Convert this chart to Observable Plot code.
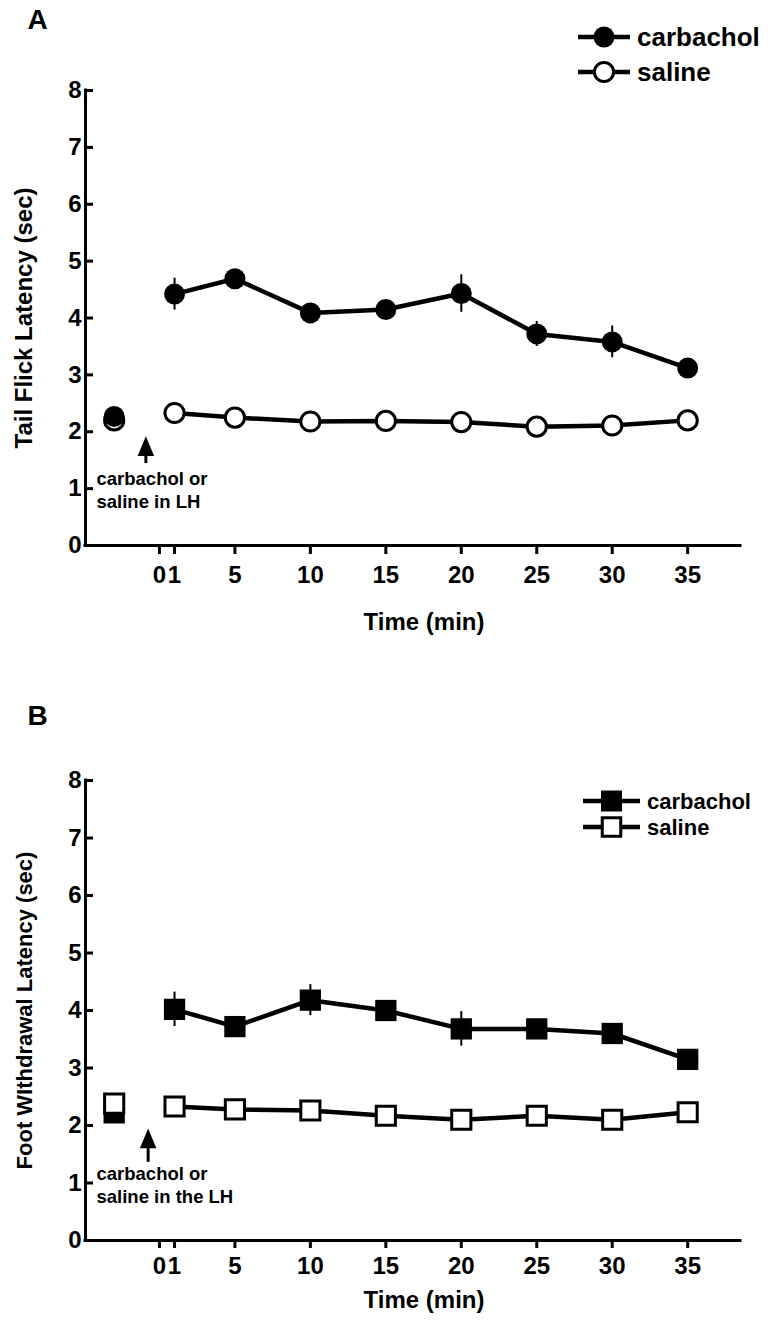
<!DOCTYPE html>
<html><head><meta charset="utf-8">
<script src="https://cdn.jsdelivr.net/npm/d3@7"></script>
<script src="https://cdn.jsdelivr.net/npm/@observablehq/plot@0.6"></script>
<style>
body{margin:0;background:#fff;font-family:"Liberation Sans",Arial,sans-serif;}
.panel{position:relative;width:773px;}
.legend{position:absolute;left:0;top:0;pointer-events:none;}
</style></head><body>
<div id="A" class="panel"></div>
<div id="B" class="panel"></div>
<script>
// ---- data ----
const times = [1, 5, 10, 15, 20, 25, 30, 35];
const xTickValues = [0, 1, 5, 10, 15, 20, 25, 30, 35];
const yTickValues = [0, 1, 2, 3, 4, 5, 6, 7, 8];
const baselineTime = -3;
const seriesNames = ["carbachol", "saline"];

// Panel A: tail flick latency (sec)
const tailCarbachol    = [4.42, 4.69, 4.09, 4.15, 4.43, 3.72, 3.58, 3.12];
const tailCarbacholErr = [0.28, 0.12, 0.05, 0.05, 0.33, 0.22, 0.28, 0.05];
const tailSaline       = [2.33, 2.25, 2.18, 2.19, 2.17, 2.09, 2.11, 2.20];
const tailSalineErr    = [0.10, 0.10, 0.08, 0.08, 0.08, 0.08, 0.08, 0.08];
const tailBaseline     = {carbachol: 2.27, saline: 2.20};

// Panel B: foot withdrawal latency (sec)
const footCarbachol    = [4.02, 3.72, 4.18, 4.00, 3.68, 3.68, 3.60, 3.15];
const footCarbacholErr = [0.30, 0.05, 0.27, 0.05, 0.30, 0.05, 0.05, 0.05];
const footSaline       = [2.33, 2.28, 2.26, 2.17, 2.10, 2.17, 2.10, 2.23];
const footSalineErr    = [0.10, 0.08, 0.08, 0.08, 0.08, 0.08, 0.10, 0.08];
const footBaseline     = {carbachol: 2.22, saline: 2.38};

// injection arrow (time, tail and tip of arrow in sec units)
const arrowA = {t: -0.9, from: 1.44, to: 1.92};
const arrowB = {t: -0.75, from: 1.36, to: 1.95};

const xDomain = [-4.9, 38.5];

// elongated filled triangle with tip at the origin
const arrowHead = {draw(ctx, size) {
  const s = Math.sqrt(size / Math.PI);
  ctx.moveTo(0, 0); ctx.lineTo(-0.75 * s, 1.8 * s); ctx.lineTo(0.75 * s, 1.8 * s); ctx.closePath();
}};

function rows(vals, errs) { return times.map((t, i) => ({t, v: vals[i], e: errs[i]})); }

function panel(cfg) {
  const carb = rows(cfg.carb, cfg.carbErr);
  const sal = rows(cfg.sal, cfg.salErr);
  const sym = cfg.symbol;
  const carbR = sym === "square" ? 12 : 10.5;
  const salR = sym === "square" ? 10.8 : 9.6;
  const baseCarb = Plot.dot([cfg.base.carbachol], {x: () => baselineTime, y: d => d, symbol: sym, r: carbR, fill: "black"});
  const baseSal = Plot.dot([cfg.base.saline], {x: () => baselineTime, y: d => d, symbol: sym, r: salR, fill: "white", stroke: "black", strokeWidth: 3});
  return Plot.plot({
    width: 773, height: cfg.height,
    marginLeft: 85, marginRight: 33, marginTop: cfg.marginTop, marginBottom: cfg.marginBottom,
    x: {domain: xDomain}, y: {domain: [0, 8]},
    style: {fontFamily: "Liberation Sans, Arial, sans-serif", fontWeight: "bold", color: "black", background: "white", overflow: "visible"},
    marks: [
      Plot.axisY({ticks: yTickValues, tickSize: 8, dx: 8, strokeWidth: 3, tickFormat: () => "", label: null}),
      Plot.axisY({ticks: yTickValues, tickSize: 0, tickPadding: 4, fontSize: 24, fontWeight: "bold", label: null}),
      Plot.axisX({ticks: xTickValues, tickSize: cfg.xTickSize, strokeWidth: 3, tickPadding: cfg.xTickPad, fontSize: 24, fontWeight: "bold", label: null}),
      Plot.ruleX([xDomain[0]], {strokeWidth: 3, strokeLinecap: "square"}),
      Plot.ruleY([0], {strokeWidth: 3, strokeLinecap: "square"}),
      Plot.text([cfg.yLabel], {frameAnchor: "left", rotate: -90, dx: -61, textAnchor: "middle", lineAnchor: "middle", fontSize: cfg.yLabelSize, fontWeight: "bold"}),
      Plot.text(["Time (min)"], {frameAnchor: "bottom", dx: 11, dy: cfg.xLabelDy, textAnchor: "middle", lineAnchor: "middle", fontSize: 24, fontWeight: "bold"}),
      Plot.text([cfg.letter], {frameAnchor: "top-left", dx: -48, dy: cfg.letterDy, textAnchor: "middle", lineAnchor: "middle", fontSize: 28, fontWeight: "bold"}),
      Plot.text([cfg.note], {frameAnchor: "bottom-left", dx: 11, dy: -56.5, textAnchor: "start", lineAnchor: "middle", lineHeight: 1.24, fontSize: 18.5, fontWeight: "bold"}),
      Plot.ruleX([cfg.arrow], {x: "t", y1: "from", y2: d => d.from + 0.6 * (d.to - d.from), strokeWidth: 3}),
      Plot.dot([cfg.arrow], {x: "t", y: "to", symbol: arrowHead, r: 11, fill: "black"}),
      ...(cfg.carbOnTop ? [baseSal, baseCarb] : [baseCarb, baseSal]),
      Plot.ruleX(carb, {x: "t", y1: d => d.v - d.e, y2: d => d.v + d.e, strokeWidth: 2}),
      Plot.ruleX(sal, {x: "t", y1: d => d.v - d.e, y2: d => d.v + d.e, strokeWidth: 2}),
      Plot.line(carb, {x: "t", y: "v", strokeWidth: 4.5}),
      Plot.line(sal, {x: "t", y: "v", strokeWidth: 4.5}),
      Plot.dot(carb, {x: "t", y: "v", symbol: sym, r: carbR, fill: "black"}),
      Plot.dot(sal, {x: "t", y: "v", symbol: sym, r: salR, fill: "white", stroke: "black", strokeWidth: 3})
    ]
  });
}

function legend(symbol, items) {
  const ns = "http://www.w3.org/2000/svg";
  const svg = d3.create("svg").attr("class", "legend").attr("width", 773).attr("height", 200)
    .attr("xmlns", ns).style("overflow", "visible");
  items.forEach((it, i) => {
    const g = svg.append("g");
    g.append("line").attr("x1", it.x1).attr("x2", it.x2).attr("y1", it.y).attr("y2", it.y)
      .attr("stroke", "black").attr("stroke-width", 4.5);
    const cx = (it.x1 + it.x2) / 2;
    const filled = i === 0;
    if (symbol === "circle") {
      g.append("circle").attr("cx", cx).attr("cy", it.y).attr("r", filled ? 10.5 : 9.6)
        .attr("fill", filled ? "black" : "white").attr("stroke", filled ? "none" : "black").attr("stroke-width", 3);
    } else {
      const s = filled ? 21 : 18.5;
      g.append("rect").attr("x", cx - s / 2).attr("y", it.y - s / 2).attr("width", s).attr("height", s)
        .attr("fill", filled ? "black" : "white").attr("stroke", filled ? "none" : "black").attr("stroke-width", 3);
    }
    g.append("text").attr("x", it.x2 + 7).attr("y", it.y).attr("dy", "0.36em")
      .attr("font-family", "Liberation Sans, Arial, sans-serif").attr("font-weight", "bold")
      .attr("font-size", it.size).text(seriesNames[i]);
  });
  return svg.node();
}

const A = document.getElementById("A");
A.appendChild(panel({
  carb: tailCarbachol, carbErr: tailCarbacholErr, sal: tailSaline, salErr: tailSalineErr,
  base: tailBaseline, symbol: "circle", carbOnTop: true,
  yLabel: "Tail Flick Latency (sec)", yLabelSize: 24, letter: "A", letterDy: -70,
  note: "carbachol or\nsaline in LH", arrow: arrowA,
  height: 660, marginTop: 90, marginBottom: 115, xTickSize: 9, xTickPad: 11, xLabelDy: 77
}));
A.appendChild(legend("circle", [
  {x1: 578, x2: 630, y: 37, size: 26},
  {x1: 578, x2: 630, y: 72, size: 26}
]));

const B = document.getElementById("B");
B.appendChild(panel({
  carb: footCarbachol, carbErr: footCarbacholErr, sal: footSaline, salErr: footSalineErr,
  base: footBaseline, symbol: "square", carbOnTop: false,
  yLabel: "Foot WIthdrawal Latency (sec)", yLabelSize: 22, letter: "B", letterDy: -64,
  note: "carbachol or\nsaline in the LH", arrow: arrowB,
  height: 661, marginTop: 120, marginBottom: 81, xTickSize: 8, xTickPad: 8, xLabelDy: 60
}));
B.appendChild(legend("square", [
  {x1: 583, x2: 640, y: 141, size: 22},
  {x1: 583, x2: 640, y: 167, size: 22}
]));
</script>
</body></html>
